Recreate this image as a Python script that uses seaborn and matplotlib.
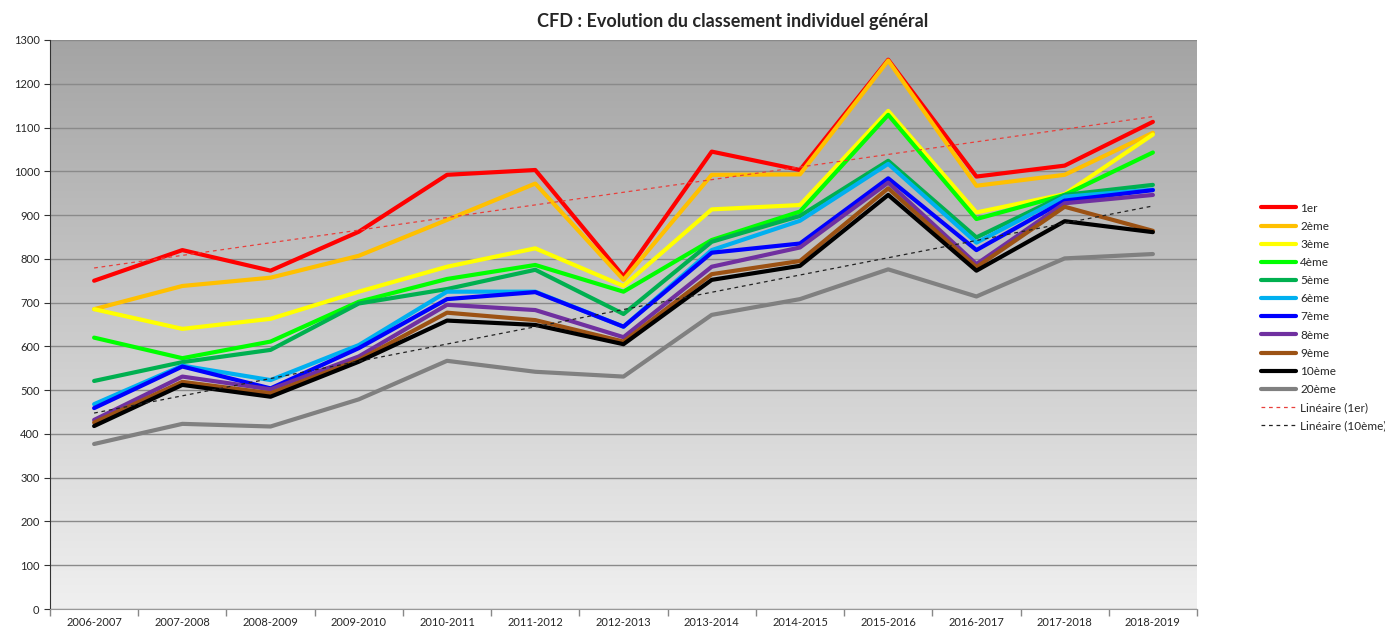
import numpy as np
import pandas as pd
import seaborn as sns
import matplotlib.pyplot as plt
from matplotlib.colors import LinearSegmentedColormap

# Saisons (axe X)
saisons = ["2006-2007", "2007-2008", "2008-2009", "2009-2010", "2010-2011", "2011-2012",
           "2012-2013", "2013-2014", "2014-2015", "2015-2016", "2016-2017", "2017-2018", "2018-2019"]

# Points par rang au classement general
pts_1er = [750, 820, 773, 862, 992, 1003, 760, 1045, 1003, 1255, 988, 1013, 1113]
pts_2eme = [685, 738, 757, 807, 889, 972, 752, 992, 993, 1253, 967, 992, 1088]
pts_3eme = [685, 640, 663, 725, 782, 824, 738, 913, 923, 1138, 906, 948, 1084]
pts_4eme = [620, 573, 611, 702, 754, 786, 725, 843, 908, 1129, 891, 946, 1043]
pts_5eme = [521, 564, 592, 698, 731, 775, 674, 839, 898, 1024, 849, 946, 969]
pts_6eme = [468, 556, 523, 603, 725, 725, 645, 820, 887, 1017, 837, 942, 958]
pts_7eme = [459, 554, 504, 596, 708, 724, 645, 814, 835, 984, 820, 933, 957]
pts_8eme = [432, 531, 502, 577, 695, 683, 621, 782, 826, 974, 788, 927, 946]
pts_9eme = [426, 519, 493, 569, 677, 660, 611, 765, 795, 961, 781, 919, 864]
pts_10eme = [418, 512, 485, 565, 659, 649, 605, 752, 784, 946, 773, 886, 861]
pts_20eme = [377, 423, 417, 479, 567, 542, 531, 672, 708, 776, 714, 801, 811]

rangs = ["1er", "2ème", "3ème", "4ème", "5ème", "6ème", "7ème", "8ème", "9ème", "10ème", "20ème"]
series = [pts_1er, pts_2eme, pts_3eme, pts_4eme, pts_5eme, pts_6eme,
          pts_7eme, pts_8eme, pts_9eme, pts_10eme, pts_20eme]
couleurs = ["#FF0000", "#FFC000", "#FFFF00", "#00FF00", "#00B050", "#00B0F0",
            "#0000FF", "#7030A0", "#9C5214", "#000000", "#808080"]

x = np.arange(len(saisons))

sns.set_style("ticks")
plt.rcParams['font.family'] = ['Lato', 'DejaVu Sans']

fig = plt.figure(figsize=(13.85, 6.27), dpi=100)
ax = fig.add_axes([50 / 1385, 1 - 609 / 627, (1197 - 50) / 1385, (609 - 40) / 627])

# Fond en degrade (clair en bas, fonce en haut)
cmap = LinearSegmentedColormap.from_list("fond", ["#F0F0F0", "#A4A4A4"])
ax.imshow(np.linspace(0, 1, 256).reshape(-1, 1), cmap=cmap, origin='lower',
          extent=[-0.5, len(saisons) - 0.5, 0, 1300], aspect='auto', zorder=0)

for rang, pts, c in zip(rangs, series, couleurs):
    sns.lineplot(x=x, y=pts, color=c, linewidth=3, label=rang, ax=ax, zorder=3)

# Courbes de tendance lineaires
sns.regplot(x=x, y=pts_1er, scatter=False, ci=None, color="#E8403C", ax=ax,
            label="Linéaire (1er)", line_kws={'ls': (0, (3, 3)), 'lw': 0.9, 'zorder': 4})
sns.regplot(x=x, y=pts_10eme, scatter=False, ci=None, color="#222222", ax=ax,
            label="Linéaire (10ème)", line_kws={'ls': (0, (3, 3)), 'lw': 0.9, 'zorder': 4})

ax.set_xlim(-0.5, len(saisons) - 0.5)
ax.set_ylim(0, 1300)
ax.set_yticks(range(0, 1301, 100))
ax.set_xticks(x)
ax.set_xticklabels(saisons)
ax.set_xticks(np.arange(-0.5, len(saisons), 1), minor=True)
ax.tick_params(axis='x', which='major', length=0, labelsize=8, pad=6)
ax.tick_params(axis='x', which='minor', length=5, color='#888888', width=1)
ax.tick_params(axis='y', length=4, labelsize=8, color='#333333')
ax.set_xlabel("")
ax.set_ylabel("")

ax.yaxis.grid(True, color='#8A8A8A', lw=1)
ax.set_axisbelow(True)
for s in ['top', 'right']:
    ax.spines[s].set_visible(False)
ax.spines['left'].set_color('#333333')
ax.spines['bottom'].set_color('#999999')

handles, labels = ax.get_legend_handles_labels()
if ax.get_legend() is not None:
    ax.get_legend().remove()
fig.legend(handles, labels, loc='upper left', bbox_to_anchor=(1250 / 1385, 1 - 192 / 627),
           frameon=False, fontsize=8.5, handlelength=3.0, labelspacing=0.605, handletextpad=0.35)

fig.suptitle("CFD : Evolution du classement individuel général", fontsize=13,
             fontweight='bold', x=733 / 1385, y=1 - 21 / 627, va='center')

plt.savefig("out.png", dpi=100)
